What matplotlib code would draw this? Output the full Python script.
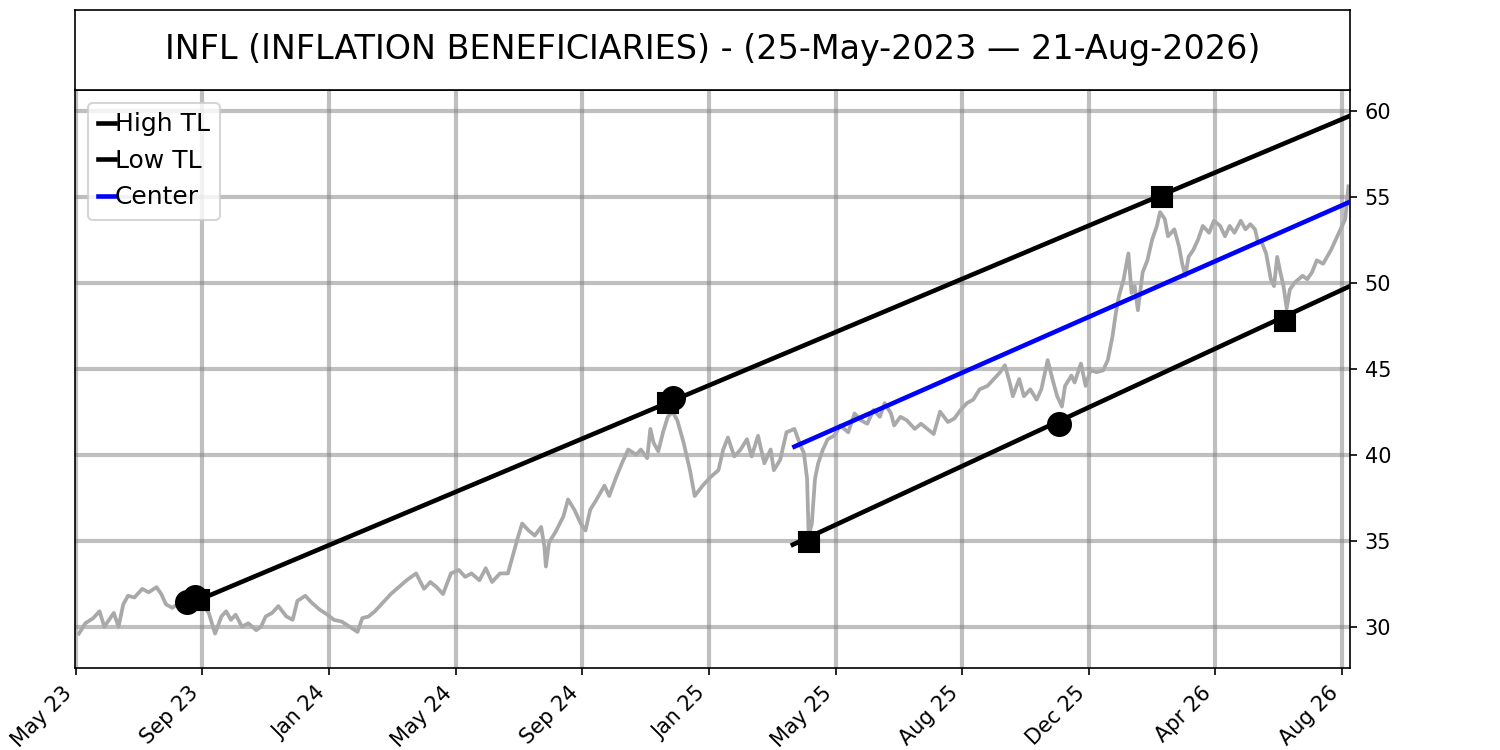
import numpy as np
import matplotlib.pyplot as plt

# bar index (trading days since 25-May-2023) and closing prices
price_x = [2, 6, 11, 15, 18, 21, 24, 27, 30, 33, 37, 42, 46, 51, 54, 57, 61, 64, 70, 75, 79,
           84, 88, 92, 95, 98, 101, 105, 109, 114, 117, 120, 124, 128, 133, 137, 140, 145, 149,
           154, 159, 163, 168, 173, 178, 181, 185, 189, 194, 199, 204, 209, 215, 220, 224, 228,
           232, 237, 242, 246, 250, 255, 259, 263, 268, 273, 276, 279, 282, 286, 290, 294, 296,
           297, 299, 303, 308, 311, 315, 319, 322, 325, 329, 334, 337, 341, 345, 349, 354, 357,
           361, 363, 365, 368, 371, 374, 377, 380, 384, 388, 391, 396, 401, 406, 409, 412, 416,
           420, 424, 427, 431, 435, 439, 441, 445, 449, 454, 458, 460, 462, 463, 465, 467, 469,
           472, 475, 479, 483, 488, 492, 496, 500, 504, 508, 511, 515, 517, 521, 525, 530, 534,
           538, 542, 546, 551, 555, 559, 563, 567, 571, 576, 580, 584, 587, 590, 592, 596, 599,
           603, 607, 610, 614, 617, 620, 623, 625, 629, 631, 635, 638, 641, 645, 649, 652, 655,
           657, 659, 662, 665, 667, 669, 671, 674, 677, 680, 683, 685, 688, 690, 694, 697, 699,
           701, 703, 706, 709, 712, 716, 719, 723, 726, 729, 732, 736, 739, 742, 745, 747, 749,
           752, 755, 757, 759, 761, 763, 765, 767, 770, 775, 778, 781, 784, 788, 793, 796, 799,
           802, 804]
price_y = [29.6, 30.2, 30.5, 30.9, 30.0, 30.4, 30.8, 30.0, 31.3, 31.8, 31.7, 32.2, 32.0, 32.3,
           31.9, 31.3, 31.1, 31.3, 31.5, 31.8, 31.4,
           30.8, 29.6, 30.6, 30.9, 30.4, 30.7, 30.0, 30.2, 29.8, 30.0, 30.6, 30.8, 31.2, 30.6,
           30.4, 31.5, 31.8, 31.4, 31.0, 30.7, 30.4, 30.3, 30.0, 29.7, 30.5, 30.6, 30.9, 31.4,
           31.9, 32.3, 32.7, 33.1, 32.2, 32.6, 32.3, 31.9, 33.1, 33.3, 32.9, 33.1, 32.7, 33.4,
           32.6, 33.1, 33.1, 34.1, 35.1, 36.0, 35.6, 35.3, 35.8, 34.7, 33.5, 34.9, 35.5, 36.4,
           37.4, 36.8, 36.0, 35.6, 36.8, 37.4, 38.2, 37.6, 38.6, 39.5, 40.3, 40.0, 40.3, 39.8,
           41.5, 40.7, 40.2, 41.3, 42.2, 42.5, 42.0, 40.7, 39.1, 37.6, 38.2, 38.7, 39.1, 40.3,
           41.0, 39.9, 40.3, 40.9, 39.9, 41.1, 39.5, 40.3, 39.1, 39.7, 41.3, 41.5, 40.5, 40.1,
           38.6, 35.3, 36.0, 38.6, 39.5, 40.3, 40.9, 41.1, 41.7, 41.3, 42.4, 42.0, 41.8, 42.6,
           42.2, 43.0, 42.4, 41.7, 42.2, 42.0, 41.5, 41.8, 41.5, 41.2, 42.5, 41.9, 42.1, 42.6,
           43.0, 43.2, 43.8, 44.0, 44.4, 44.8, 45.2, 44.2, 43.4, 44.4, 43.4, 43.8, 43.2, 43.8,
           45.5, 44.4, 43.4, 42.8, 44.0, 44.6, 44.2, 45.3, 44.0, 44.9, 44.8, 44.9, 45.5, 46.9,
           48.2, 49.2, 50.2, 51.7, 49.4, 49.8, 48.4, 50.6, 51.3, 52.5, 53.3, 54.1, 53.7, 52.7,
           53.1, 52.1, 51.1, 50.4, 51.5, 51.9, 52.5, 53.3, 52.9, 53.6, 53.3, 52.7, 53.3, 52.9,
           53.6, 53.1, 53.4, 53.1, 52.3, 52.4, 51.7, 50.2, 49.8, 51.5, 50.6, 49.8, 48.5, 49.6,
           50.0, 50.4, 50.2, 50.6, 51.3, 51.1, 51.9, 52.5, 53.1, 53.7, 55.6]

# trend lines (start / end)
high_x = [78, 805]
high_y = [31.57, 59.7]
low_x = [453, 805]
low_y = [34.77, 49.8]
center_x = [454, 805]
center_y = [40.47, 54.7]

# pivot markers
circ_x = [70, 75, 377, 621]
circ_y = [31.45, 31.75, 43.3, 41.8]
sq_x = [78, 374, 686, 463, 764]
sq_y = [31.57, 43.03, 55.0, 34.9, 47.75]

tick_pos = [0, 80, 160, 240, 320, 400, 480, 560, 640, 720, 800]
tick_lab = ['May 23', 'Sep 23', 'Jan 24', 'May 24', 'Sep 24', 'Jan 25',
            'May 25', 'Aug 25', 'Dec 25', 'Apr 26', 'Aug 26']

fig = plt.figure(figsize=(10, 5), dpi=150)
ax = fig.add_axes([0.05, 0.1093, 0.85, 0.7707])
tax = fig.add_axes([0.05, 0.88, 0.85, 0.1067])

# title box
tax.set_xticks([])
tax.set_yticks([])
tax.text(0.5, 0.5, 'INFL (INFLATION BENEFICIARIES) - (25-May-2023 \u2014 21-Aug-2026)',
         ha='center', va='center', fontsize=16, transform=tax.transAxes)

ax.plot(price_x, price_y, color='darkgray', lw=1.8, zorder=2)
ax.plot(high_x, high_y, color='black', lw=2.2, label='High TL', zorder=3)
ax.plot(low_x, low_y, color='black', lw=2.2, label='Low TL', zorder=3)
ax.plot(center_x, center_y, color='blue', lw=2.2, label='Center', zorder=3)
ax.plot(circ_x, circ_y, 'ko', ms=11, ls='none', zorder=4)
ax.plot(sq_x, sq_y, 'ks', ms=10, ls='none', zorder=4)

ax.set_xlim(-0.5, 805)
ax.set_ylim(27.6, 61.2)
ax.set_xticks(tick_pos)
ax.set_xticklabels(tick_lab, rotation=45, ha='right')
ax.set_yticks(np.arange(30, 61, 5))
ax.yaxis.tick_right()
ax.grid(True, color='gray', alpha=0.5, lw=2)
ax.legend(loc='upper left', fontsize=12, handlelength=0.7, handletextpad=0.0)

plt.savefig('out.png', dpi=150)
